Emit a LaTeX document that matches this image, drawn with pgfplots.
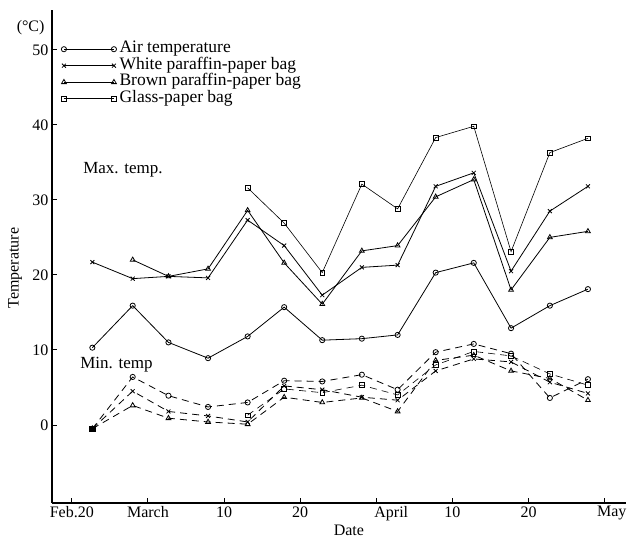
\documentclass[border=0pt]{standalone}
\usepackage{pgfplots}
\pgfplotsset{compat=1.18}
\usepackage{fontspec}
\setmainfont{Liberation Serif}
\begin{document}
\begin{tikzpicture}[font=\fontsize{16bp}{19bp}\selectfont]
\begin{axis}[
  scale only axis,
  width=574bp, height=493bp,
  xmin=-0.26, xmax=7.28,
  ymin=-10.4, ymax=55.3,
  axis x line=bottom, axis y line=left,
  axis line style={-, line width=1.6bp},
  y axis line style={line width=2.2bp},
  xtick={0,...,7},
  xticklabels={Feb.20, March, 10, 20, \hspace*{30bp}April, 10, 20, \hspace*{14bp}May},
  ytick={0,10,...,50},
  tick align=inside,
  major tick length=5bp,
  tick style={black, line width=0.9bp},
  /pgf/number format/assume math mode=true,
  clip=false,
  legend style={draw=none, fill=none, at={(axis cs:-0.14,51.2)}, anchor=north west,
    inner sep=0pt, font=\fontsize{17.5bp}{20bp}\selectfont,
    nodes={inner sep=1bp, text height=11bp, text depth=3.5bp},
    /tikz/column sep=2bp},
  legend cell align=left,
  legend image code/.code={\draw[#1] plot coordinates {(0bp,0bp) (50bp,0bp)};},
]
\coordinate (SW) at (rel axis cs:0,0);
\coordinate (NE) at (rel axis cs:1,1);
% ---- maximum temperatures ----
\addplot[black, line width=0.8bp, mark=o, mark size=2.6bp, mark options={solid, fill=white}] coordinates {
(0.27,10.3) (0.80,15.9) (1.27,11.0) (1.79,8.9) (2.31,11.8) (2.79,15.7) (3.29,11.3)
(3.81,11.5) (4.28,12.0) (4.78,20.3) (5.28,21.6) (5.77,12.9) (6.28,15.9) (6.78,18.1)};
\addlegendentry{Air temperature}
\addplot[black, line width=0.8bp, mark=x, mark size=2.8bp, mark options={solid}] coordinates {
(0.27,21.7) (0.80,19.5) (1.27,19.8) (1.79,19.6) (2.31,27.3) (2.79,23.9) (3.29,17.3)
(3.81,21.0) (4.28,21.3) (4.78,31.8) (5.28,33.6) (5.77,20.5) (6.28,28.5) (6.78,31.8)};
\addlegendentry{White paraffin-paper bag}
\addplot[black, line width=0.8bp, mark=triangle, mark size=2.8bp, mark options={solid, fill=white}] coordinates {
(0.80,22.0) (1.27,19.8) (1.79,20.8) (2.31,28.6) (2.79,21.6) (3.29,16.1)
(3.81,23.2) (4.28,23.9) (4.78,30.4) (5.28,32.7) (5.77,18.0) (6.28,25.0) (6.78,25.8)};
\addlegendentry{Brown paraffin-paper bag}
\addplot[black, line width=0.6bp, mark=square, mark size=2.4bp, mark options={solid, fill=white}] coordinates {
(2.31,31.6) (2.79,26.9) (3.29,20.3)
(3.81,32.1) (4.28,28.8) (4.78,38.3) (5.28,39.8) (5.77,23.1) (6.28,36.3) (6.78,38.2)};
\addlegendentry{Glass-paper bag}
% ---- minimum temperatures ----
\addplot[forget plot, black, line width=0.8bp, dash pattern=on 7bp off 5bp, mark=o, mark size=2.6bp, mark options={solid, fill=white}] coordinates {
(0.27,-0.5) (0.80,6.4) (1.27,3.9) (1.79,2.4) (2.31,3.0) (2.79,5.9) (3.29,5.8)
(3.81,6.7) (4.28,4.7) (4.78,9.7) (5.28,10.8) (5.77,9.5) (6.28,3.6) (6.78,6.1)};
\addplot[forget plot, black, line width=0.8bp, dash pattern=on 7bp off 5bp, mark=x, mark size=2.8bp, mark options={solid}] coordinates {
(0.27,-0.5) (0.80,4.5) (1.27,1.8) (1.79,1.2) (2.31,0.4) (2.79,5.2) (3.29,4.7)
(3.81,3.7) (4.28,3.3) (4.78,7.2) (5.28,8.8) (5.77,8.4) (6.28,5.7) (6.78,4.2)};
\addplot[forget plot, black, line width=0.8bp, dash pattern=on 7bp off 5bp, mark=triangle, mark size=2.8bp, mark options={solid, fill=white}] coordinates {
(0.27,-0.5) (0.80,2.6) (1.27,0.9) (1.79,0.4) (2.31,0.1) (2.79,3.7) (3.29,3.0)
(3.81,3.6) (4.28,1.8) (4.78,8.6) (5.28,9.3) (5.77,7.2) (6.28,6.2) (6.78,3.3)};
\addplot[forget plot, black, line width=0.6bp, dash pattern=on 7bp off 5bp, mark=square, mark size=2.4bp, mark options={solid, fill=white}] coordinates {
(2.31,1.3) (2.79,4.8) (3.29,4.3)
(3.81,5.3) (4.28,4.0) (4.78,8.0) (5.28,9.8) (5.77,9.2) (6.28,6.8) (6.78,5.3)};
\addplot[forget plot, only marks, mark=square*, mark size=2.8bp, black] coordinates {(0.27,-0.5)};
% ---- texts ----
\node[anchor=west, font=\fontsize{17bp}{20bp}\selectfont] at (axis cs:0.105,34) {Max. temp.};
\node[anchor=west, font=\fontsize{17bp}{20bp}\selectfont] at (axis cs:0.066,8.0) {Min. temp};
\node[anchor=east, xshift=-4bp] at (axis cs:-0.26,52.9) {(°C)};
\node[rotate=90, yshift=37bp] at (axis cs:-0.26,20.9) {Temperature};
\node[yshift=-27bp] at (axis cs:3.64,-10.4) {Date};
\end{axis}
\pgfresetboundingbox
\path ([shift={(-52bp,-40bp)}]SW) rectangle ([shift={(2bp,10bp)}]NE);
\end{tikzpicture}
\end{document}
